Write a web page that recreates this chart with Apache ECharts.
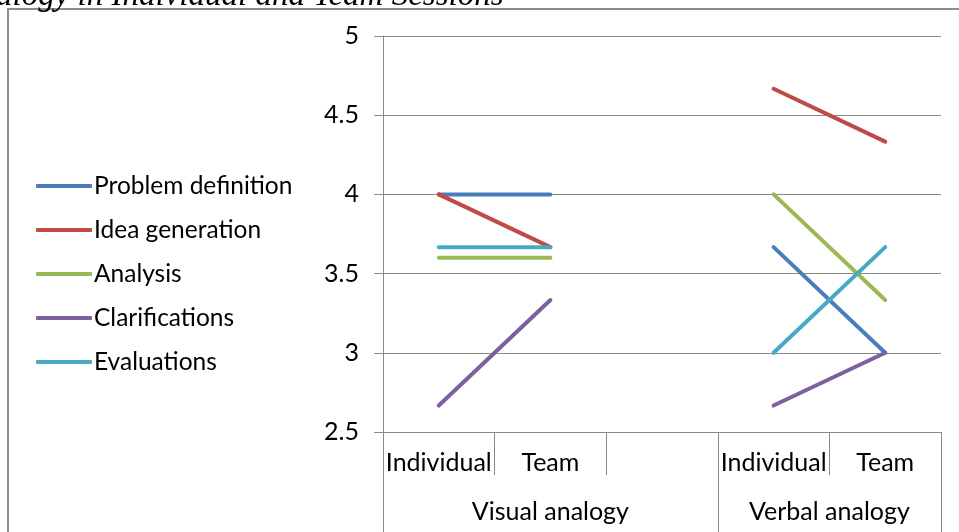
<!DOCTYPE html>
<html>
<head>
<meta charset="utf-8">
<script src="https://cdn.jsdelivr.net/npm/echarts@6/dist/echarts.min.js"></script>
<style>html,body{margin:0;padding:0;background:#fff}#c{width:959px;height:532px}</style>
</head>
<body>
<div id="c"></div>
<script>
var categories = ['Individual', 'Team', '', 'Individual', 'Team'];
var groupLabels = ['Visual analogy', 'Verbal analogy'];
var groupCenters = [1.5, 4];
var groupBounds = [0, 3, 5];
var seriesNames = ['Problem definition', 'Idea generation', 'Analysis', 'Clarifications', 'Evaluations'];
var problemDefinition = [4.0, 4.0, null, 3.667, 3.0];
var ideaGeneration = [4.0, 3.667, null, 4.667, 4.333];
var analysis = [3.6, 3.6, null, 4.0, 3.333];
var clarifications = [2.667, 3.333, null, 2.667, 3.0];
var evaluations = [3.667, 3.667, null, 3.0, 3.667];
var colors = ['#4A7EBB', '#BE4B48', '#98B954', '#7D60A0', '#46AAC5'];
var titleText = 'alogy in Individual and Team Sessions';

var values = [problemDefinition, ideaGeneration, analysis, clarifications, evaluations];
var FONT = 'Lato';
var FS = 25;
var AX = '#8a8a8a';
var chart = echarts.init(document.getElementById('c'));
chart.setOption({
  animation: false,
  color: colors,
  textStyle: { fontFamily: FONT },
  grid: { left: 383, right: 18, top: 36, bottom: 100 },
  graphic: [
    { type: 'rect', shape: { x: 8, y: 9, width: 1000, height: 600 }, style: { fill: 'none', stroke: '#8c8c8c', lineWidth: 2 }, silent: true },
    { type: 'text', left: -4, top: -20, style: { text: titleText, font: 'italic 33px "Liberation Serif"', fill: '#000' } }
  ],
  legend: {
    orient: 'vertical', left: 31, top: 168,
    itemWidth: 56, itemHeight: 4, itemGap: 18,
    icon: 'roundRect',
    textStyle: { fontSize: 24.5, color: '#000', fontFamily: FONT, lineHeight: 26, padding: [0, 0, 0, -3] },
    data: seriesNames
  },
  xAxis: [{
    type: 'category', data: categories, boundaryGap: true,
    axisLine: { show: true, lineStyle: { color: AX, width: 1 } },
    axisTick: { show: true, interval: 0, length: 43, lineStyle: { color: AX } },
    axisLabel: { interval: 0, margin: 18, fontSize: FS, color: '#000', fontFamily: FONT }
  }, {
    type: 'value', min: 0, max: 5, position: 'bottom', offset: 43,
    axisLine: { show: false },
    splitLine: { show: false },
    axisTick: { show: true, customValues: groupBounds, length: 60, lineStyle: { color: AX } },
    axisLabel: { customValues: groupCenters, margin: 24, fontSize: FS, color: '#000', fontFamily: FONT,
      formatter: function (v) { var i = groupCenters.indexOf(v); return i >= 0 ? groupLabels[i] : ''; } }
  }],
  yAxis: {
    type: 'value', min: 2.5, max: 5, interval: 0.5,
    axisLine: { show: true, lineStyle: { color: AX } },
    axisTick: { show: true, length: 9, lineStyle: { color: AX } },
    splitLine: { lineStyle: { color: AX } },
    axisLabel: { margin: 24, fontSize: FS, color: '#000', fontFamily: FONT }
  },
  series: seriesNames.map(function (n, i) {
    return {
      name: n, type: 'line', data: values[i], xAxisIndex: 0,
      showSymbol: false, symbol: 'none', connectNulls: false,
      lineStyle: { width: 4, cap: 'round', color: colors[i] }
    };
  })
});
</script>
</body>
</html>
